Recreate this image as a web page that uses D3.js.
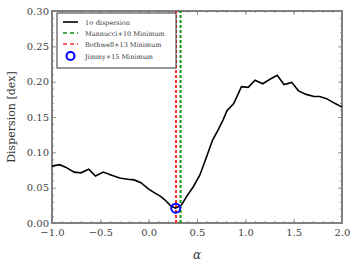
<!DOCTYPE html>
<html>
<head>
<meta charset="utf-8">
<script src="https://cdn.jsdelivr.net/npm/d3@7"></script>
<style>
  body { margin: 0; background: #fff; }
  text { font-family: "DejaVu Serif", "Liberation Serif", serif; }
</style>
</head>
<body>
<div id="chart"></div>
<script>
// alpha values and the 1 sigma dispersion
var alphas = [-1.0, -0.92, -0.86, -0.77, -0.70, -0.62, -0.55, -0.47, -0.39, -0.30,
    -0.22, -0.15, -0.08, 0.0, 0.07, 0.12, 0.17, 0.23, 0.28, 0.34, 0.39, 0.46,
    0.53, 0.60, 0.66, 0.72, 0.77, 0.81, 0.88, 0.96, 1.03, 1.10, 1.18, 1.25,
    1.33, 1.40, 1.48, 1.55, 1.63, 1.71, 1.77, 1.84, 1.93, 2.0];
var dispersion = [0.0805, 0.0825, 0.079, 0.072, 0.071, 0.076, 0.0665, 0.072, 0.068, 0.0637,
    0.062, 0.061, 0.057, 0.048, 0.042, 0.038, 0.0325, 0.024, 0.021, 0.0255, 0.037, 0.051,
    0.068, 0.094, 0.117, 0.132, 0.146, 0.159, 0.169, 0.193, 0.192, 0.202, 0.197, 0.203,
    0.209, 0.196, 0.199, 0.187, 0.182, 0.179, 0.179, 0.176, 0.169, 0.164];

var mannucciMin = 0.33;
var bothwellMin = 0.283;
var jimmyMin = [0.28, 0.021];

var xTicks = [-1.0, -0.5, 0.0, 0.5, 1.0, 1.5, 2.0];
var yTicks = [0.00, 0.05, 0.10, 0.15, 0.20, 0.25, 0.30];

var legendLabels = ["1\u03c3 dispersion", "Mannucci+10 Minimum", "Bothwell+13 Minimum", "Jimmy+15 Minimum"];

var width = 360, height = 270;
var margin = {left: 52, top: 11, right: 18, bottom: 47};
var axisColor = "#808080";

var svg = d3.select("#chart").append("svg")
    .attr("width", width)
    .attr("height", height);

var x = d3.scaleLinear().domain([-1, 2]).range([margin.left, width - margin.right]);
var y = d3.scaleLinear().domain([0, 0.30]).range([height - margin.bottom, margin.top]);

var plotW = width - margin.left - margin.right;
var plotH = height - margin.top - margin.bottom;

// minor + major ticks, on all four sides, pointing in
var xMinor = d3.range(-1, 2.001, 0.1);
var yMinor = d3.range(0, 0.3001, 0.01);

var g = svg.append("g");

g.append("g").attr("transform", "translate(0," + (height - margin.bottom) + ")")
    .call(d3.axisBottom(x).tickValues(xMinor).tickSize(-2).tickFormat(""));
g.append("g").attr("transform", "translate(0," + margin.top + ")")
    .call(d3.axisTop(x).tickValues(xMinor).tickSize(-2).tickFormat(""));
g.append("g").attr("transform", "translate(" + margin.left + ",0)")
    .call(d3.axisLeft(y).tickValues(yMinor).tickSize(-2).tickFormat(""));
g.append("g").attr("transform", "translate(" + (width - margin.right) + ",0)")
    .call(d3.axisRight(y).tickValues(yMinor).tickSize(-2).tickFormat(""));

var xAxis = g.append("g").attr("transform", "translate(0," + (height - margin.bottom) + ")")
    .call(d3.axisBottom(x).tickValues(xTicks).tickSize(-4).tickPadding(6)
        .tickFormat(function(d) { return d.toFixed(1).replace("-", "\u2212"); }));
g.append("g").attr("transform", "translate(0," + margin.top + ")")
    .call(d3.axisTop(x).tickValues(xTicks).tickSize(-4).tickFormat(""));
var yAxis = g.append("g").attr("transform", "translate(" + margin.left + ",0)")
    .call(d3.axisLeft(y).tickValues(yTicks).tickSize(-4).tickPadding(3)
        .tickFormat(d3.format(".2f")));
g.append("g").attr("transform", "translate(" + (width - margin.right) + ",0)")
    .call(d3.axisRight(y).tickValues(yTicks).tickSize(-4).tickFormat(""));

g.selectAll(".domain").remove();
g.selectAll(".tick line").attr("stroke", axisColor).attr("stroke-width", 0.8);
g.selectAll(".tick text")
    .attr("fill", "#444")
    .style("font-family", "'DejaVu Serif', serif")
    .style("font-size", "10px");

// frame
svg.append("rect")
    .attr("x", margin.left).attr("y", margin.top)
    .attr("width", plotW).attr("height", plotH)
    .attr("fill", "none")
    .attr("stroke", axisColor)
    .attr("stroke-width", 2);

// vertical minimum lines
svg.append("line")
    .attr("x1", x(mannucciMin)).attr("x2", x(mannucciMin))
    .attr("y1", y(0)).attr("y2", y(0.30))
    .attr("stroke", "#109010").attr("stroke-width", 2)
    .attr("stroke-dasharray", "3,2");
svg.append("line")
    .attr("x1", x(bothwellMin)).attr("x2", x(bothwellMin))
    .attr("y1", y(0)).attr("y2", y(0.30))
    .attr("stroke", "#ff2a2a").attr("stroke-width", 2)
    .attr("stroke-dasharray", "3,2");

// dispersion curve
var line = d3.line()
    .x(function(d, i) { return x(alphas[i]); })
    .y(function(d) { return y(d); });

svg.append("path")
    .datum(dispersion)
    .attr("d", line)
    .attr("fill", "none")
    .attr("stroke", "#000")
    .attr("stroke-width", 1.6);

svg.append("circle")
    .attr("cx", x(jimmyMin[0])).attr("cy", y(jimmyMin[1]))
    .attr("r", 4.5)
    .attr("fill", "none")
    .attr("stroke", "#0000ff")
    .attr("stroke-width", 2);

// axis labels
svg.append("text")
    .attr("transform", "translate(15," + (margin.top + plotH / 2) + ") rotate(-90)")
    .attr("text-anchor", "middle")
    .attr("fill", "#333")
    .style("font-size", "11px")
    .text("Dispersion [dex]");

svg.append("text")
    .attr("x", x(0.5)).attr("y", 259)
    .attr("text-anchor", "middle")
    .attr("fill", "#333")
    .style("font-size", "12px")
    .style("font-style", "italic")
    .text("\u03b1");

// legend
var legend = svg.append("g").attr("transform", "translate(57,13)");
legend.append("rect")
    .attr("width", 119).attr("height", 55)
    .attr("fill", "#fff")
    .attr("stroke", "#333")
    .attr("stroke-width", 1);

var rowY = [9, 20, 31, 43];
legendLabels.forEach(function(label, i) {
    var row = legend.append("g").attr("transform", "translate(0," + rowY[i] + ")");
    if (i === 0) {
        row.append("line").attr("x1", 6).attr("x2", 21)
            .attr("stroke", "#000").attr("stroke-width", 1.6);
    } else if (i === 1 || i === 2) {
        row.append("line").attr("x1", 6).attr("x2", 21)
            .attr("stroke", i === 1 ? "#109010" : "#ff2a2a").attr("stroke-width", 1.6)
            .attr("stroke-dasharray", "4,3");
    } else {
        row.append("circle").attr("cx", 13.5).attr("cy", 0).attr("r", 4)
            .attr("fill", "none").attr("stroke", "#0000ff").attr("stroke-width", 2);
    }
    row.append("text")
        .attr("x", 28).attr("y", 2.5)
        .attr("fill", "#333")
        .style("font-size", "6.5px")
        .text(label);
});
</script>
</body>
</html>
